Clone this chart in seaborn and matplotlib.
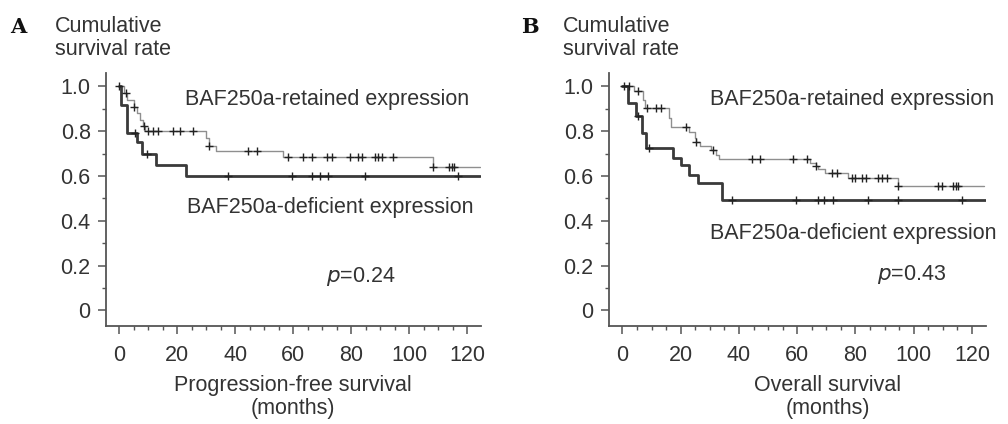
import numpy as np
import pandas as pd
import matplotlib
matplotlib.use("Agg")
import matplotlib.pyplot as plt
import seaborn as sns
from matplotlib.ticker import MultipleLocator

# ---------------- data ----------------
# Panel A: progression-free survival
pfs_ret_t = [0, 1.5, 2.7, 5, 6, 7, 8, 9, 30, 31, 33.5, 56.6, 108.3, 124.5]
pfs_ret_s = [1.0, 0.97, 0.94, 0.91, 0.88, 0.85, 0.825, 0.80, 0.77, 0.735, 0.71, 0.687, 0.64, 0.64]
pfs_ret_cens = [0, 2.4, 5.2, 8.6, 10, 11.7, 13.4, 18.6, 21, 25.5, 31, 44.5, 47.6, 58.3, 63.4,
                66.6, 71.7, 73.4, 79.7, 82.4, 83.8, 88.3, 89.3, 90.7, 94.5, 108.3, 113.8,
                114.8, 115.5]
pfs_def_t = [0, 0.7, 2.7, 6, 7.8, 12.7, 23, 124.5]
pfs_def_s = [1.0, 0.915, 0.79, 0.75, 0.70, 0.65, 0.60, 0.60]
pfs_def_cens = [5.5, 9.6, 37.6, 59.6, 66.6, 69.3, 72, 84.8, 117]

# Panel B: overall survival
os_ret_t = [0, 4, 7, 7.7, 16, 16.8, 23, 24.8, 25.4, 26.5, 30.5, 32, 33, 64.3, 66.4, 67, 69.5,
            77.4, 94.6, 124]
os_ret_s = [1.0, 0.98, 0.94, 0.905, 0.86, 0.82, 0.795, 0.77, 0.75, 0.735, 0.717, 0.695, 0.675,
            0.66, 0.645, 0.63, 0.615, 0.593, 0.557, 0.557]
os_ret_cens = [0.7, 2.4, 5.2, 8.6, 11.7, 13.4, 21.7, 25.4, 31, 44.4, 47.1, 58.5, 63.2, 66.4,
               71.9, 73.6, 78.8, 79.8, 82.2, 83.6, 87.7, 89.1, 90.8, 94.6, 108.3, 109.7,
               113.5, 114.5, 115.2]
os_def_t = [0, 1.8, 4.8, 6.8, 8.2, 17.2, 20.2, 22.7, 26, 34.2, 124.8]
os_def_s = [1.0, 0.925, 0.87, 0.79, 0.725, 0.68, 0.647, 0.605, 0.57, 0.495, 0.495]
os_def_cens = [5.5, 9.3, 37.5, 59.5, 67, 69.1, 72.2, 84.2, 94.6, 116.6]

panel_letters = ["A", "B"]
xlabels = ["Progression-free survival\n(months)", "Overall survival\n(months)"]
ylabel = "Cumulative\nsurvival rate"
retained_label = "BAF250a-retained expression"
deficient_label = "BAF250a-deficient expression"
p_values = ["0.24", "0.43"]
xticks = [0, 20, 40, 60, 80, 100, 120]
yticks = [0, 0.2, 0.4, 0.6, 0.8, 1.0]
yticklabels = ["0", "0.2", "0.4", "0.6", "0.8", "1.0"]

# ---------------- style ----------------
sns.set_theme(style="white")
plt.rcParams["font.family"] = ["Liberation Sans", "DejaVu Sans"]
TXT = "#333333"
FS = 15.5
W, H = 1008, 424
fig = plt.figure(figsize=(W / 100, H / 100), dpi=100)


def fx(px):
    return px / W


def fy(py):
    return 1 - py / H


def step_value(t_arr, s_arr, t):
    idx = np.searchsorted(np.asarray(t_arr), t, side="right") - 1
    return np.asarray(s_arr)[np.clip(idx, 0, len(s_arr) - 1)]


def draw_panel(ax, ret_t, ret_s, ret_c, def_t, def_s, def_c):
    d_ret = pd.DataFrame({"t": ret_t, "s": ret_s})
    d_def = pd.DataFrame({"t": def_t, "s": def_s})
    sns.lineplot(data=d_ret, x="t", y="s", ax=ax, drawstyle="steps-post", color="#8f8f8f",
                 lw=1.0, estimator=None, sort=False)
    sns.lineplot(data=d_def, x="t", y="s", ax=ax, drawstyle="steps-post", color="#3a3a3a",
                 lw=2.0, estimator=None, sort=False)
    c_ret = pd.DataFrame({"t": ret_c, "s": step_value(ret_t, ret_s, np.array(ret_c))})
    c_def = pd.DataFrame({"t": def_c, "s": step_value(def_t, def_s, np.array(def_c))})
    for c in (c_ret, c_def):
        sns.scatterplot(data=c, x="t", y="s", ax=ax, marker="+", s=26, color="#222222",
                        linewidth=1.0, zorder=5)
    ax.set_xlim(-4.6, 124.8)
    ax.set_ylim(-0.07, 1.06)
    ax.set_xticks(xticks)
    ax.set_yticks(yticks)
    ax.set_yticklabels(yticklabels)
    ax.xaxis.set_minor_locator(MultipleLocator(5))
    ax.yaxis.set_minor_locator(MultipleLocator(0.1))
    ax.tick_params(axis="both", which="major", direction="out", length=6, width=1.1,
                   color="#555555", labelsize=FS, labelcolor=TXT,
                   bottom=True, left=True)
    ax.tick_params(axis="both", which="minor", direction="out", length=3, width=1.0,
                   color="#555555", bottom=True, left=True)
    ax.tick_params(axis="x", which="major", pad=8)
    ax.tick_params(axis="y", which="major", pad=5)
    for side in ("top", "right"):
        ax.spines[side].set_visible(False)
    for side in ("left", "bottom"):
        ax.spines[side].set_color("#555555")
        ax.spines[side].set_linewidth(1.3)
    ax.set_xlabel("")
    ax.set_ylabel("")


axA = fig.add_axes([fx(106), fy(326), fx(481 - 106), (326 - 73) / H])
axB = fig.add_axes([fx(609), fy(326), fx(986 - 609), (326 - 73) / H])
draw_panel(axA, pfs_ret_t, pfs_ret_s, pfs_ret_cens, pfs_def_t, pfs_def_s, pfs_def_cens)
draw_panel(axB, os_ret_t, os_ret_s, os_ret_cens, os_def_t, os_def_s, os_def_cens)

# Panel A texts
fig.text(fx(10), fy(27), panel_letters[0], family="DejaVu Serif", fontweight="bold",
         fontsize=15, color="#111111", va="center", ha="left")
fig.text(fx(55), fy(38), ylabel, fontsize=FS, color=TXT, va="center", ha="left",
         linespacing=1.15)
fig.text(fx(185), fy(99), retained_label, fontsize=FS, color=TXT, va="center", ha="left")
fig.text(fx(187), fy(208), deficient_label, fontsize=FS, color=TXT, va="center", ha="left")
fig.text(fx(326), fy(277), "$\\it{p}$=" + p_values[0], fontsize=FS, color=TXT,
         va="center", ha="left")
fig.text(fx(293), fy(397), xlabels[0], fontsize=FS, color=TXT, va="center", ha="center",
         linespacing=1.1)

# Panel B texts
fig.text(fx(521), fy(27), panel_letters[1], family="DejaVu Serif", fontweight="bold",
         fontsize=15, color="#111111", va="center", ha="left")
fig.text(fx(563), fy(38), ylabel, fontsize=FS, color=TXT, va="center", ha="left",
         linespacing=1.15)
fig.text(fx(710), fy(99), retained_label, fontsize=FS, color=TXT, va="center", ha="left")
fig.text(fx(710), fy(233), deficient_label, fontsize=FS, color=TXT, va="center", ha="left")
fig.text(fx(877), fy(275), "$\\it{p}$=" + p_values[1], fontsize=FS, color=TXT,
         va="center", ha="left")
fig.text(fx(828), fy(397), xlabels[1], fontsize=FS, color=TXT, va="center", ha="center",
         linespacing=1.1)

fig.savefig("out.png", dpi=100)
